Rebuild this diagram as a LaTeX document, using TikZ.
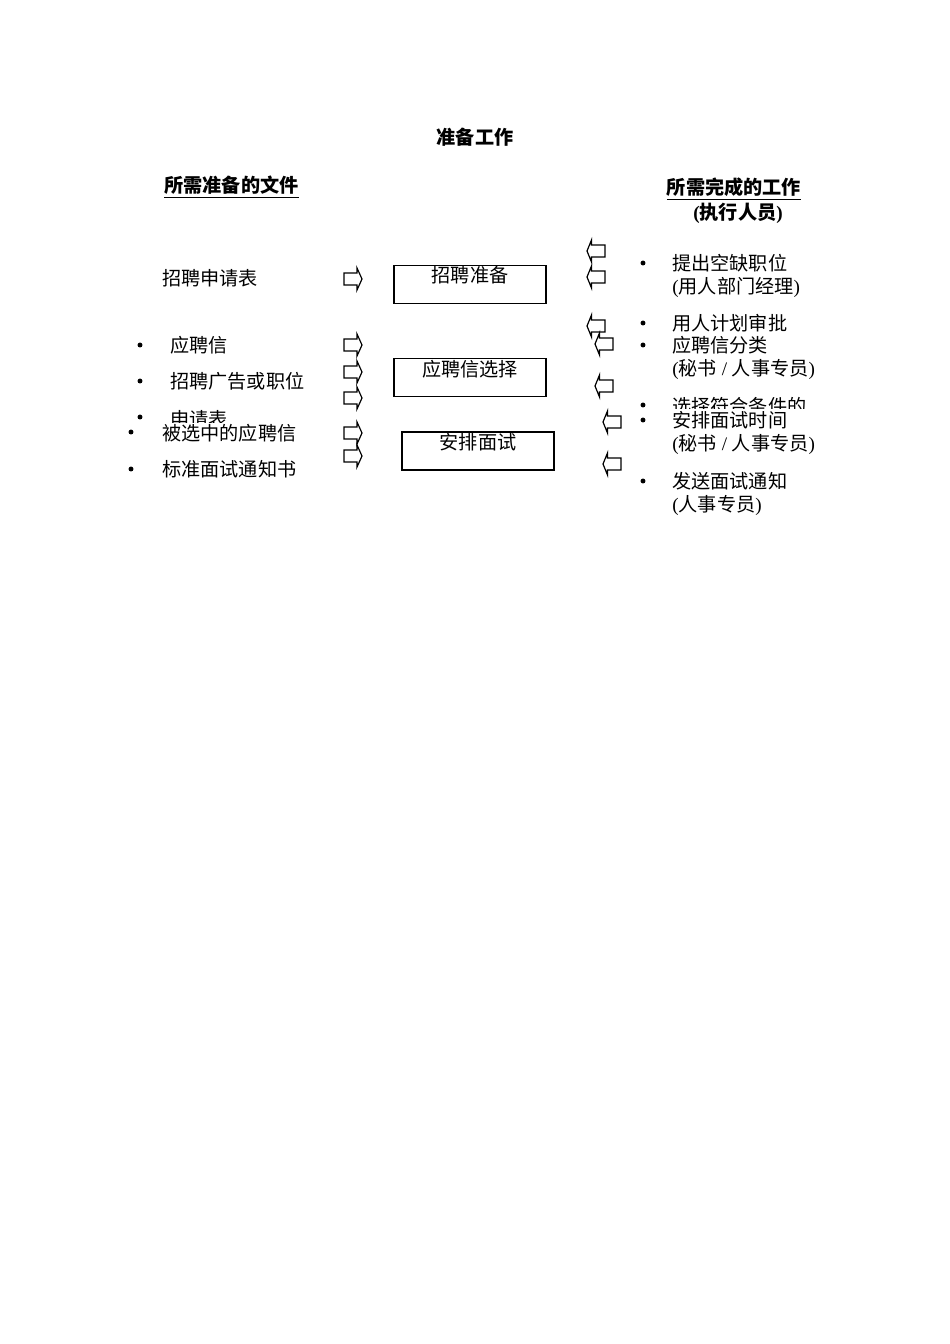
\documentclass[tikz,border=0pt]{standalone}
\usepackage{fontspec}
\setmainfont{Liberation Serif}
\newfontfamily\cjk{Noto Sans CJK SC}
\newcommand\zh[1]{{\cjk #1}}
\newcommand\rarrowshape[2]{\draw[blk] (#1,#2-6) -- ++(13,0) -- ++(0,-5) -- ++(5,11) -- ++(-5,11) -- ++(0,-5) -- ++(-13,0) -- cycle;}
\newcommand\larrowshape[2]{\draw[blk] (#1,#2) -- ++(4.5,-11) -- ++(0,5) -- ++(13.5,0) -- ++(0,12) -- ++(-13.5,0) -- ++(0,5) -- cycle;}
\begin{document}
\begin{tikzpicture}[x=0.6266pt,y=-0.6266pt,
  txt/.style={anchor=west,inner sep=0pt,font=\fontsize{12}{14}\selectfont},
  ctxt/.style={anchor=center,inner sep=0pt,font=\fontsize{12}{14}\selectfont},
  hdr/.style={anchor=center,inner sep=0pt,font=\fontsize{12}{14}\selectfont\bfseries},
  bul/.style={circle,fill=black,inner sep=0pt,minimum size=3.1pt},
  stagebox/.style={draw,line width=0.9pt,minimum width=95.2pt,minimum height=23.8pt,inner sep=0pt},
  blk/.style={draw,line width=0.75pt,line join=miter}]
\useasboundingbox[fill=white] (0,0) rectangle (950,1344);

% headings
\node[hdr] (title) at (475,137) {\zh{准备工作}};
\node[hdr] (lhead) at (231.5,187) {\underline{\zh{所需准备的文件}}};
\node[hdr] (rhead) at (734,189) {\underline{\zh{所需完成的工作}}};
\node[hdr] (rsub) at (738,213) {(\zh{执行人员})};

% stage boxes
\node[stagebox] (box1) at (470,284.5) {};
\node[ctxt] (box1t) at (470,275) {\zh{招聘准备}};
\node[stagebox] (box2) at (470,377.5) {};
\node[ctxt] (box2t) at (470,369) {\zh{应聘信选择}};
\node[stagebox] (box3) at (478,451) {};
\node[ctxt] (box3t) at (478,442) {\zh{安排面试}};

% left documents
\node[txt] (d1) at (162,278) {\zh{招聘申请表}};
\node[bul] (db2) at (140,345) {};
\node[txt] (d2) at (170,345) {\zh{应聘信}};
\node[bul] (db3) at (140,381) {};
\node[txt] (d3) at (170,381) {\zh{招聘广告或职位}};
\node[bul] (db4) at (140,417) {};
\begin{scope}
\clip (100,400) rectangle (400,422);
\node[txt] (d4) at (170,419) {\zh{申请表}};
\end{scope}
\node[bul] (db5) at (131,432) {};
\node[txt] (d5) at (162,433) {\zh{被选中的应聘信}};
\node[bul] (db6) at (131,469) {};
\node[txt] (d6) at (162,469) {\zh{标准面试通知书}};

% right tasks
\node[bul] (tb1) at (643,263) {};
\node[txt] (t1) at (672,263) {\zh{提出空缺职位}};
\node[txt] (t1b) at (672,287) {(\zh{用人部门经理})};
\node[bul] (tb2) at (643,323) {};
\node[txt] (t2) at (672,323) {\zh{用人计划审批}};
\node[bul] (tb3) at (643,345) {};
\node[txt] (t3) at (672,345) {\zh{应聘信分类}};
\node[txt] (t3b) at (672,369) {(\zh{秘书} / \zh{人事专员})};
\node[bul] (tb4) at (643,405) {};
\begin{scope}
\clip (660,390) rectangle (850,408);
\node[txt] (t4) at (672,406) {\zh{选择符合条件的}};
\end{scope}
\node[bul] (tb5) at (643,420) {};
\node[txt] (t5) at (672,420) {\zh{安排面试时间}};
\node[txt] (t5b) at (672,444) {(\zh{秘书} / \zh{人事专员})};
\node[bul] (tb6) at (643,481) {};
\node[txt] (t6) at (672,481) {\zh{发送面试通知}};
\node[txt] (t6b) at (672,505) {(\zh{人事专员})};

% left block arrows (pointing right)
\rarrowshape{344}{279}
\rarrowshape{344}{345}
\rarrowshape{344}{372}
\rarrowshape{344}{398}
\rarrowshape{344}{433}
\rarrowshape{344}{456}

% right block arrows (pointing left)
\larrowshape{587}{251}
\larrowshape{587}{277}
\larrowshape{587}{326}
\larrowshape{595}{344}
\larrowshape{595}{386}
\larrowshape{603}{422}
\larrowshape{603}{464}
\end{tikzpicture}
\end{document}
